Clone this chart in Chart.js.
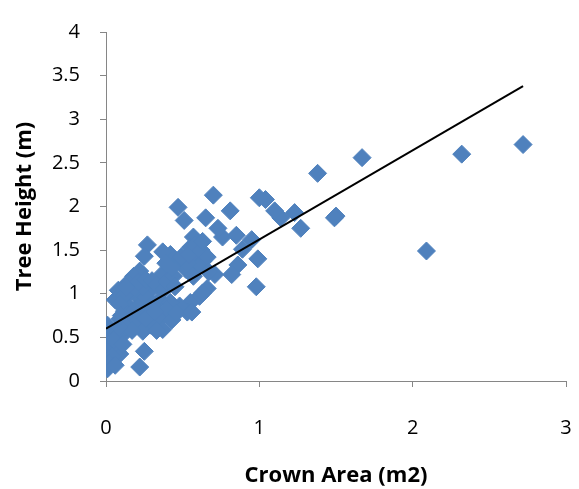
<!DOCTYPE html>
<html>
<head>
<meta charset="utf-8">
<script src="https://cdn.jsdelivr.net/npm/chart.js@4.4.1/dist/chart.umd.min.js"></script>
<style>
  body { margin: 0; background: #fff; }
</style>
</head>
<body>
<canvas id="chart" width="579" height="489"></canvas>
<script>
// crown area (m2) and tree height (m)
const crownArea = [
  2.72, 2.32, 2.09, 1.67, 1.38, 1.50, 1.49, 1.27, 1.23, 1.14, 1.10, 1.04, 1.00, 0.95, 0.99, 0.98,
  0.89, 0.85, 0.86, 0.82, 0.81, 0.76, 0.73, 0.70, 0.71, 0.65, 0.66, 0.61, 0.55, 0.53, 0.48, 0.47,
  0.51, 0.57, 0.55, 0.59, 0.63, 0.60, 0.57, 0.52, 0.46, 0.42, 0.37, 0.27, 0.25, 0.37, 0.22, 0.18,
  0.14, 0.08, 0.06, 0.11, 0.20, 0.29, 0.35, 0.42, 0.40, 0.35, 0.37, 0.29, 0.22, 0.16, 0.09, 0.01,
  0.03, 0.11, 0.25, 0.22, 0.09, 0.07, 0.01, 0.00, 0.00, 0.00, 0.03, 0.07, 0.18, 0.24, 0.05, 0.04,
  0.02, 0.06, 0.11, 0.13, 0.15, 0.12, 0.19, 0.23, 0.26, 0.27, 0.30, 0.24, 0.21, 0.26, 0.30, 0.33,
  0.38, 0.40, 0.44, 0.45, 0.53, 0.49, 0.54, 0.58, 0.62, 0.66, 0.43, 0.39, 0.16, 0.12, 0.09, 0.17,
  0.09, 0.26, 0.32, 0.33, 0.43, 0.46, 0.67, 0.63, 0.13, 0.10, 0.63, 0.56
];
const treeHeight = [
  2.71, 2.60, 1.49, 2.56, 2.38, 1.89, 1.87, 1.75, 1.93, 1.87, 1.95, 2.08, 2.10, 1.62, 1.40, 1.08,
  1.51, 1.67, 1.33, 1.22, 1.95, 1.65, 1.75, 2.13, 1.22, 1.87, 1.06, 0.97, 0.90, 0.79, 0.86, 1.99,
  1.84, 1.65, 1.53, 1.45, 1.37, 1.30, 1.20, 1.28, 1.37, 1.45, 1.48, 1.56, 1.43, 1.23, 1.26, 1.20,
  1.12, 1.04, 0.93, 0.90, 0.98, 1.04, 0.93, 0.90, 0.82, 0.71, 0.59, 0.64, 0.71, 0.75, 0.71, 0.64,
  0.53, 0.53, 0.34, 0.16, 0.31, 0.34, 0.14, 0.23, 0.38, 0.45, 0.38, 0.57, 0.64, 0.57, 0.47, 0.28,
  0.20, 0.18, 0.42, 0.62, 0.85, 0.80, 0.82, 0.88, 0.96, 0.78, 0.88, 1.08, 1.13, 1.16, 1.15, 1.10,
  1.05, 1.14, 1.20, 1.08, 1.35, 1.42, 1.45, 1.56, 1.50, 1.42, 1.30, 1.35, 1.02, 0.98, 0.88, 0.58,
  0.62, 0.72, 0.80, 0.58, 0.70, 0.78, 1.25, 1.60, 1.07, 0.75, 1.01, 0.79
];
// linear trendline end points
const trendX = [0, 2.72];
const trendY = [0.6, 3.38];

const xTicks = [0, 1, 2, 3];
const yTicks = [0, 0.5, 1, 1.5, 2, 2.5, 3, 3.5, 4];

const points = crownArea.map((x, i) => ({ x: x, y: treeHeight[i] }));
const trend = trendX.map((x, i) => ({ x: x, y: trendY[i] }));

const axisColor = '#868686';
const fontFamily = "'Open Sans', 'Liberation Sans', sans-serif";

new Chart(document.getElementById('chart').getContext('2d'), {
  type: 'scatter',
  data: {
    datasets: [
      {
        label: 'Trend',
        data: trend,
        showLine: true,
        borderColor: '#000',
        borderWidth: 2,
        pointRadius: 0,
        order: 0
      },
      {
        label: 'Tree Height',
        data: points,
        pointStyle: 'rectRot',
        pointRadius: 9,
        backgroundColor: '#4F81BD',
        borderColor: '#4F81BD',
        borderWidth: 1,
        order: 1
      }
    ]
  },
  options: {
    responsive: false,
    animation: false,
    layout: { padding: { left: 0, right: 0, top: 20, bottom: 0 } },
    plugins: { legend: { display: false }, tooltip: { enabled: false } },
    scales: {
      x: {
        min: 0, max: 3,
        afterFit: s => { s.height = 108; s.paddingRight = 13; },
        afterBuildTicks: s => { s.ticks = xTicks.map(v => ({ value: v })); },
        border: { color: axisColor, width: 1 },
        grid: { drawOnChartArea: false, drawTicks: true, tickLength: 6, color: axisColor },
        ticks: { color: '#000', font: { family: fontFamily, size: 20 }, padding: 29, maxRotation: 0 },
        title: {
          display: true, text: 'Crown Area (m2)', color: '#000',
          font: { family: fontFamily, size: 22, weight: 'bold' },
          padding: { top: 0, bottom: 0 }
        }
      },
      y: {
        min: 0, max: 4,
        afterFit: s => { s.width = 106; },
        afterBuildTicks: s => { s.ticks = yTicks.map(v => ({ value: v })); },
        border: { color: axisColor, width: 1 },
        grid: { drawOnChartArea: false, drawTicks: true, tickLength: 6, color: axisColor },
        ticks: {
          color: '#000', font: { family: fontFamily, size: 20 }, padding: 20,
          callback: v => String(v)
        },
        title: {
          display: true, text: 'Tree Height (m)', color: '#000',
          font: { family: fontFamily, size: 22, weight: 'bold' },
          padding: { top: 12, bottom: 0 }
        }
      }
    }
  }
});
</script>
</body>
</html>
